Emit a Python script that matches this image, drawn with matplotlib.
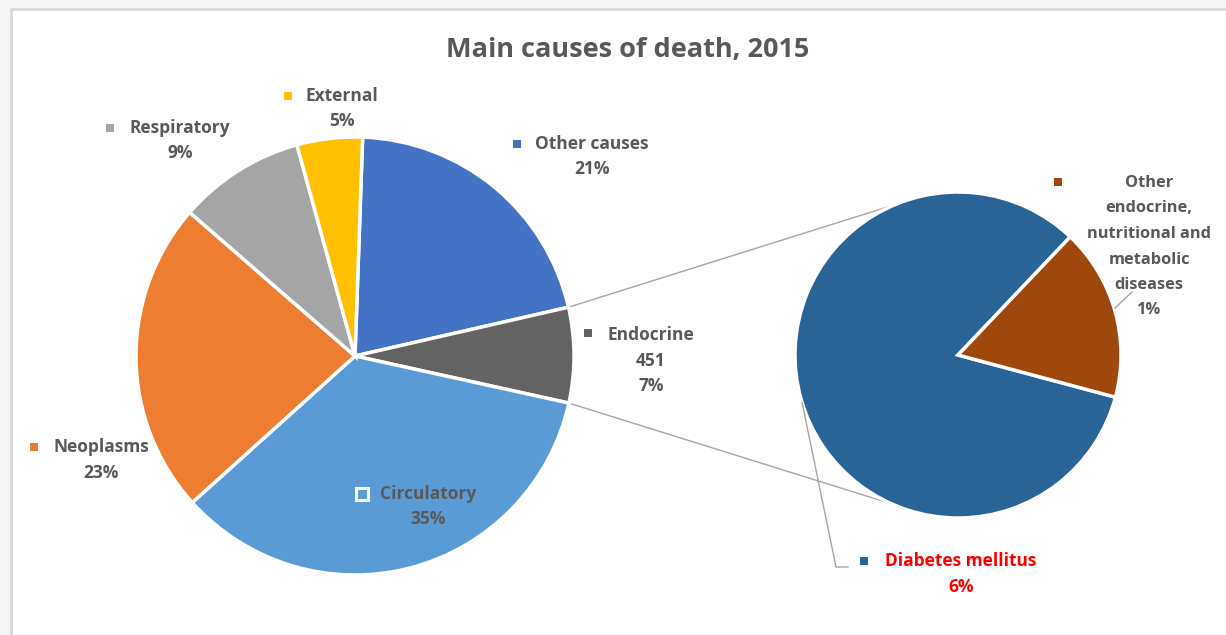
import matplotlib.pyplot as plt
import matplotlib.patches as patches
import numpy as np

# main pie
causes = ['Other causes', 'Endocrine', 'Circulatory', 'Neoplasms', 'Respiratory', 'External']
deaths = [1340, 451, 2240, 1480, 600, 310]
cause_colors = ['#4472C4', '#636363', '#5B9BD5', '#ED7D31', '#A5A5A5', '#FFC000']

# split of the endocrine slice
endo_parts = ['Diabetes mellitus', 'Other\nendocrine,\nnutritional and\nmetabolic\ndiseases']
endo_deaths = [374, 77]
endo_colors = ['#2A6496', '#9E480E']

title = 'Main causes of death, 2015'

TXT = '#595959'
FONT = 'Open Sans'

fig = plt.figure(figsize=(12.26, 6.35), dpi=100, facecolor='#f6f6f6')
ax = fig.add_axes([0, 0, 1, 1])
total = sum(deaths)

big_c, big_r = (355, 356), 219
small_c, small_r = (958, 355), 163

# y axis is inverted (pixel style), so angles are mirrored
w1, _ = ax.pie(deaths, colors=cause_colors, center=big_c, radius=big_r,
               startangle=-88, counterclock=True,
               wedgeprops=dict(edgecolor='white', linewidth=2.5))
w2, _ = ax.pie(endo_deaths, colors=endo_colors, center=small_c, radius=small_r,
               startangle=15, counterclock=True,
               wedgeprops=dict(edgecolor='white', linewidth=2.5))

ax.set_xlim(0, 1226)
ax.set_ylim(635, 0)
ax.set_aspect('auto')
ax.axis('off')

ax.add_patch(patches.Rectangle((11, 9), 1300, 700, facecolor='white',
                               edgecolor='#d9d9d9', lw=2, zorder=0))


def on_circle(c, r, ang):
    a = np.deg2rad(ang)
    return c[0] + r * np.cos(a), c[1] + r * np.sin(a)


# connector lines between the pies
endo = w1[1]
p1 = on_circle(big_c, big_r, endo.theta1)
p2 = on_circle(big_c, big_r, endo.theta2)
q1 = on_circle(small_c, small_r, 114)
q2 = on_circle(small_c, small_r, -112.5)
ax.plot([p1[0], q2[0]], [p1[1], q2[1]], color='#a6a6a6', lw=1, zorder=0.5)
ax.plot([p2[0], q1[0]], [p2[1], q1[1]], color='#a6a6a6', lw=1, zorder=0.5)

# leader lines
d0 = on_circle(small_c, small_r, 163)
ax.plot([d0[0], 836, 848], [d0[1], 567, 567], color='#a6a6a6', lw=1, zorder=3)
ax.plot([1115, 1132], [308, 292], color='#a6a6a6', lw=1, zorder=3)


def label(lines, x, y, mx, my, mcolor, tcolor=TXT, outlined=False, size=12.5):
    for i, s in enumerate(lines):
        ax.text(x, y + i * 25.5, s, ha='center', va='center', fontsize=size,
                fontweight='bold', color=tcolor, family=FONT, zorder=5)
    if outlined:
        ax.plot(mx, my, marker='s', ms=8.5, mfc=mcolor, mec='white', mew=2.2, zorder=5)
    else:
        ax.plot(mx, my, marker='s', ms=5.5, mfc=mcolor, mec=mcolor, mew=0, zorder=5)


pct = [f'{round(v / total * 100)}%' for v in deaths]
big_layout = [(592, 144, 517, 144), (651, 335, 588, 333), (428, 494, 362, 494),
              (101, 447, 34, 447), (180, 128, 110, 128), (342, 96, 288, 96)]
for i, name in enumerate(causes):
    x, y, mx, my = big_layout[i]
    lines = [name, pct[i]]
    if name == 'Endocrine':
        lines = [name, str(deaths[i]), pct[i]]
    label(lines, x, y, mx, my, cause_colors[i], outlined=(name == 'Circulatory'))

epct = [f'{round(v / total * 100)}%' for v in endo_deaths]
label([endo_parts[0], epct[0]], 961, 561, 864, 561, endo_colors[0], tcolor='#ff0000')
label(endo_parts[1].split('\n') + [epct[1]], 1149, 183, 1058, 182, endo_colors[1], size=11.8)

ax.text(628, 50, title, ha='center', va='center', fontsize=19.5, fontweight='bold',
        color=TXT, family=FONT)

fig.savefig('out.png', dpi=100, facecolor=fig.get_facecolor())
